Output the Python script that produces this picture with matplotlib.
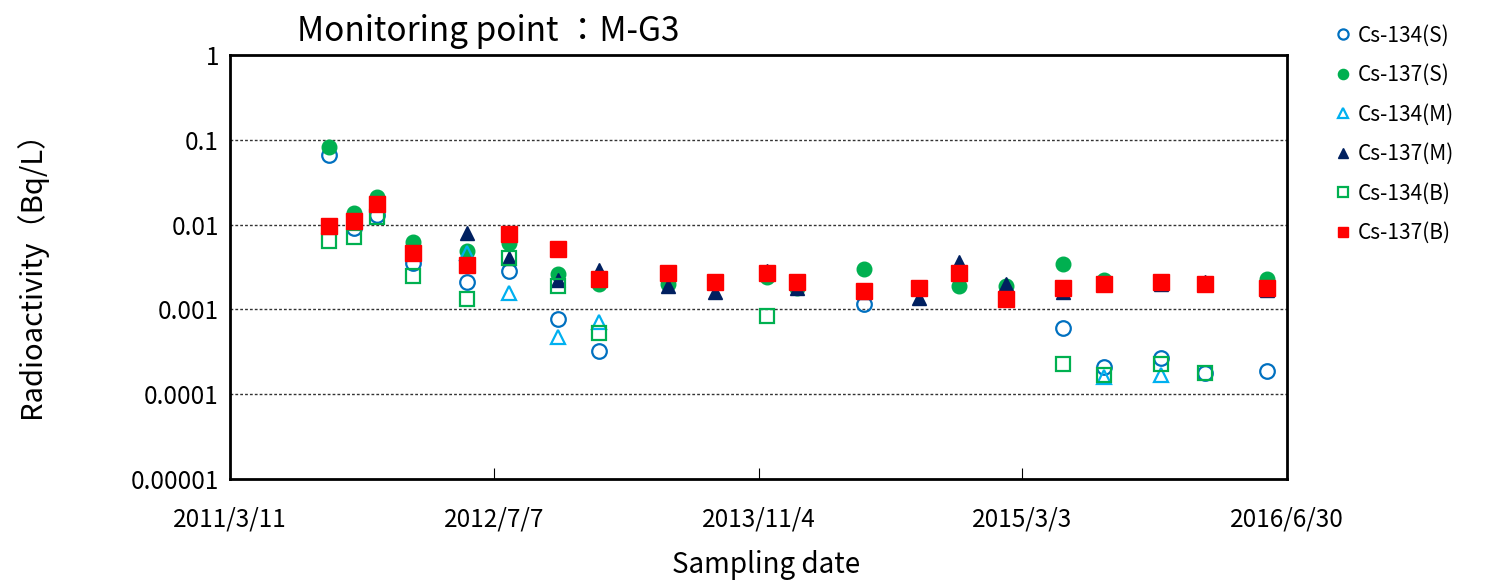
import numpy as np
import matplotlib
matplotlib.use("Agg")
import matplotlib.pyplot as plt
import matplotlib.dates as mdates
from datetime import datetime

plt.rcParams['font.family'] = ['Noto Sans CJK JP', 'DejaVu Sans']

# sampling dates
dates = ["2011-09-08", "2011-10-24", "2011-12-06", "2012-02-09", "2012-05-18",
         "2012-08-03", "2012-11-01", "2013-01-16", "2013-05-22", "2013-08-16",
         "2013-11-20", "2014-01-14", "2014-05-16", "2014-08-25", "2014-11-07",
         "2015-02-01", "2015-05-16", "2015-07-30", "2015-11-12", "2016-02-01",
         "2016-05-24"]

nan = np.nan
# Bq/L, nan = not shown
cs134_s = [0.066, 0.0091, 0.013, 0.0035, 0.0021, 0.0028, 0.00077, 0.00032, nan, nan,
           nan, nan, 0.00115, nan, nan, nan, 0.0006, 0.00021, 0.00027, 0.00018, 0.00019]
cs137_s = [0.082, 0.0137, 0.021, 0.0062, 0.0049, 0.0060, 0.0026, 0.0020, 0.0020, nan,
           0.0024, 0.0018, 0.0030, nan, 0.0019, 0.0019, 0.0034, 0.0022, nan, 0.0020, 0.0023]
cs134_m = [nan, nan, nan, nan, 0.0046, 0.00156, 0.00047, 0.00071, nan, nan,
           nan, nan, nan, nan, nan, nan, nan, 0.00016, 0.00017, nan, nan]
cs137_m = [nan, nan, nan, nan, 0.0080, 0.0040, 0.0022, 0.0029, 0.0019, 0.0016,
           0.0028, 0.0018, 0.0016, 0.00136, 0.0036, 0.0020, 0.0016, 0.0020, 0.0020, 0.0021, 0.0017]
cs134_b = [0.0064, 0.0071, 0.0123, 0.0025, 0.00133, 0.0040, 0.0019, 0.00053, nan, nan,
           0.00083, nan, nan, nan, nan, nan, 0.00023, 0.00017, 0.00023, 0.00018, nan]
cs137_b = [0.0096, 0.011, 0.0175, 0.0046, 0.0033, 0.0078, 0.0052, 0.0023, 0.0027, 0.0021,
           0.0027, 0.0021, 0.00165, 0.0018, 0.0027, 0.00133, 0.0018, 0.0020, 0.0021, 0.0020, 0.0018]

tick_dates = ["2011-03-11", "2012-07-07", "2013-11-04", "2015-03-03", "2016-06-30"]
tick_labels = ["2011/3/11", "2012/7/7", "2013/11/4", "2015/3/3", "2016/6/30"]
y_ticks = [1, 0.1, 0.01, 0.001, 0.0001, 0.00001]
y_labels = ["1", "0.1", "0.01", "0.001", "0.0001", "0.00001"]

x = mdates.date2num([datetime.strptime(d, "%Y-%m-%d") for d in dates])
xt = mdates.date2num([datetime.strptime(d, "%Y-%m-%d") for d in tick_dates])

fig = plt.figure(figsize=(14.87, 5.81), dpi=100)
ax = fig.add_axes([0.1547, 0.1756, 0.7108, 0.7297])

ms = 10.5
ew = 1.6
ax.plot(x, cs134_s, 'o', ls='none', ms=ms, mfc='none', mec='#0070C0', mew=ew, label='Cs-134(S)')
ax.plot(x, cs137_s, 'o', ls='none', ms=ms, mfc='#00B050', mec='#00B050', label='Cs-137(S)')
ax.plot(x, cs134_m, '^', ls='none', ms=ms, mfc='none', mec='#00B0F0', mew=ew, label='Cs-134(M)')
ax.plot(x, cs137_m, '^', ls='none', ms=ms, mfc='#002060', mec='#002060', label='Cs-137(M)')
ax.plot(x, cs134_b, 's', ls='none', ms=ms, mfc='none', mec='#00B050', mew=ew, label='Cs-134(B)')
ax.plot(x, cs137_b, 's', ls='none', ms=ms + 0.5, mfc='#FF0000', mec='#FF0000', label='Cs-137(B)')

ax.set_yscale('log')
ax.set_ylim(0.00001, 1)
ax.set_xlim(xt[0], xt[-1])
ax.set_yticks(y_ticks)
ax.set_yticklabels(y_labels, fontsize=17.5)
ax.minorticks_off()
ax.tick_params(axis='y', length=0, pad=8)
ax.set_xticks(xt)
ax.set_xticklabels(tick_labels, fontsize=17.5)
ax.tick_params(axis='x', direction='in', length=8, width=0.8, pad=20)

# dotted gridlines inside only
for v in y_ticks[1:-1]:
    ax.axhline(v, color='#333333', lw=1.0, ls=(0, (2, 1.5)), zorder=0)

for s in ax.spines.values():
    s.set_linewidth(2)

# axis titles and chart title placed in figure coordinates
fig.text(0.515, 0.027, "Sampling date", fontsize=20, ha='center', va='center')
fig.text(0.021, 0.54, "Radioactivity（Bq/L）", fontsize=21, rotation=90,
         ha='center', va='center')
fig.text(0.2, 0.945, "Monitoring point ：M-G3", fontsize=24, ha='left', va='center')

fig.legend(loc='upper left', bbox_to_anchor=(0.885, 0.99), frameon=False,
           fontsize=15, labelspacing=0.84, handletextpad=0.3, handlelength=0.8,
           markerscale=0.7)

fig.savefig("out.png", dpi=100)
